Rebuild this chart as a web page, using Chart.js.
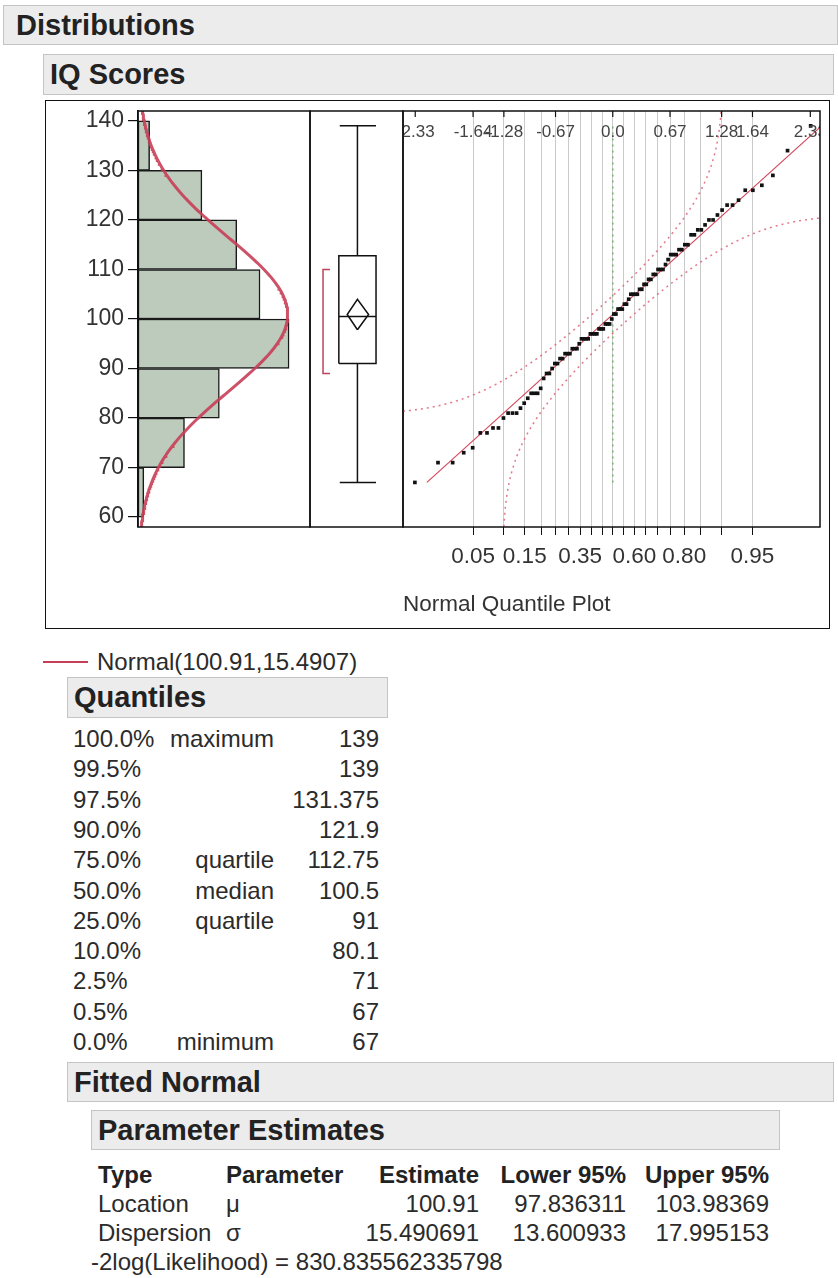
<!DOCTYPE html>
<html>
<head>
<meta charset="utf-8">
<script src="https://cdn.jsdelivr.net/npm/chart.js@4.4.1/dist/chart.umd.min.js"></script>
<style>
  html, body { margin: 0; padding: 0; background: #fff; }
  body { position: relative; width: 838px; height: 1278px; overflow: hidden;
         font-family: 'Liberation Sans', Arial, sans-serif; color: #2b2b2b; }
  .hdr { position: absolute; background: #ececec; border: 1px solid #c4c4c4; box-sizing: border-box;
         font-weight: bold; font-size: 29px; color: #222; line-height: 38px; white-space: nowrap; }
  .frame { position: absolute; border: 1.5px solid #111; box-sizing: border-box; }
  canvas { position: absolute; }
  .t { position: absolute; font-size: 24px; line-height: 30px; height: 30px; white-space: nowrap; }
  .r { text-align: right; }
  .b { font-weight: bold; color: #222; }
</style>
</head>
<body>
<div class="hdr" style="left:3px; top:5px; width:835px; height:40px; padding-left:12px;">Distributions</div>
<div class="hdr" style="left:43px; top:54px; width:791px; height:41px; padding-left:6px;">IQ Scores</div>
<div class="frame" style="left:45px; top:100px; width:785px; height:529px;"></div>

<canvas id="hist" width="271" height="432" style="left:45px; top:100px; width:271px; height:432px;"></canvas>
<canvas id="box" width="105" height="432" style="left:304px; top:100px; width:105px; height:432px;"></canvas>
<canvas id="qq" width="431" height="529" style="left:397px; top:100px; width:431px; height:529px;"></canvas>

<div id="legend"></div>
<div class="hdr" style="left:67px; top:677px; width:321px; height:41px; padding-left:6px;">Quantiles</div>
<div id="quantiles"></div>
<div class="hdr" style="left:67px; top:1062px; width:767px; height:40px; padding-left:6px;">Fitted Normal</div>
<div class="hdr" style="left:91px; top:1110px; width:689px; height:40px; padding-left:6px;">Parameter Estimates</div>
<div id="params"></div>

<script>
// ---- data ----
const binLower = [60, 70, 80, 90, 100, 110, 120, 130];
const binCounts = [1, 8, 14, 26, 21, 17, 11, 2];
const BIN_WIDTH = 10;

// sorted IQ scores (n = 100)
const iqScores = [
  67,
  71, 71, 73, 74, 77, 77, 78, 78,
  80, 81, 81, 81, 82, 83, 84, 85, 85, 85, 86, 88, 89, 89,
  90, 91, 91, 92, 92, 93, 93, 93, 94, 94, 94, 95, 96, 96, 96, 96, 97, 97, 97, 97, 98, 98, 98, 99, 99, 99,
  100, 101, 101, 102, 102, 102, 103, 103, 104, 105, 105, 105, 105, 106, 106, 107, 107, 108, 108, 109, 109,
  110, 110, 110, 111, 112, 113, 113, 113, 114, 114, 115, 115, 117, 117, 118, 118, 119,
  120, 120, 121, 122, 123, 123, 124, 126, 126, 127, 129, 134, 139
];

const quantileLevels = ['100.0%', '99.5%', '97.5%', '90.0%', '75.0%', '50.0%', '25.0%', '10.0%', '2.5%', '0.5%', '0.0%'];
const quantileNames  = ['maximum', '', '', '', 'quartile', 'median', 'quartile', '', '', '', 'minimum'];
const quantileValues = [139, 139, 131.375, 121.9, 112.75, 100.5, 91, 80.1, 71, 67, 67];

const paramTypes = ['Location', 'Dispersion'];
const paramSymbols = ['μ', 'σ'];
const paramEstimates = [100.91, 15.490691];
const paramLower = [97.836311, 13.600933];
const paramUpper = [103.98369, 17.995153];
const neg2LogLikelihood = '830.835562335798';
const legendLabel = 'Normal(100.91,15.4907)';

const shortestHalf = [89, 110];

const yTickValues = [60, 70, 80, 90, 100, 110, 120, 130, 140];
const probTicks = [0.05, 0.10, 0.15, 0.20, 0.25, 0.30, 0.35, 0.40, 0.45, 0.50,
                   0.55, 0.60, 0.65, 0.70, 0.75, 0.80, 0.85, 0.90, 0.95];
const probTickLabels = ['0.05', '', '0.15', '', '', '', '0.35', '', '', '',
                        '', '0.60', '', '', '', '0.80', '', '', '0.95'];
const topTickValues = [-2.326, -1.645, -1.282, -0.674, 0, 0.674, 1.282, 1.645, 2.326];
const topTickLabels = ['-2.33', '-1.64', '-1.28', '-0.67', '0.0', '0.67', '1.28', '1.64', '2.33'];

// ---- constants for scales & bands ----
const MU = paramEstimates[0];
const SIGMA = paramEstimates[1];
const N = iqScores.length;
const Y_MIN = 58, Y_MAX = 142;
const HIST_MAX = 29.6;
const Z_MIN = -2.47, Z_MAX = 2.44;
const BAND_D = 0.097;
const Q_MAX = quantileValues[0], Q3 = quantileValues[4], MEDIAN = quantileValues[5],
      Q1 = quantileValues[6], Q_MIN = quantileValues[10];

// ---- normal helpers ----
function erf(x) {
  const s = Math.sign(x); x = Math.abs(x);
  const t = 1 / (1 + 0.3275911 * x);
  const y = 1 - (((((1.061405429 * t - 1.453152027) * t) + 1.421413741) * t - 0.284496736) * t + 0.254829592) * t * Math.exp(-x * x);
  return s * y;
}
function normCdf(z) { return 0.5 * (1 + erf(z / Math.SQRT2)); }
function normPdf(v) { const u = (v - MU) / SIGMA; return Math.exp(-0.5 * u * u) / (SIGMA * Math.sqrt(2 * Math.PI)); }
function invNorm(p) {
  const a = [-3.969683028665376e+01, 2.209460984245205e+02, -2.759285104469687e+02, 1.383577518672690e+02, -3.066479806614716e+01, 2.506628277459239e+00];
  const b = [-5.447609879822406e+01, 1.615858368580409e+02, -1.556989798598866e+02, 6.680131188771972e+01, -1.328068155288572e+01];
  const c = [-7.784894002430293e-03, -3.223964580411365e-01, -2.400758277161838e+00, -2.549732539343734e+00, 4.374664141464968e+00, 2.938163982698783e+00];
  const d = [7.784695709041462e-03, 3.224671290700398e-01, 2.445134137142996e+00, 3.754408661907416e+00];
  const pl = 0.02425, ph = 1 - pl;
  if (p < pl) {
    const q = Math.sqrt(-2 * Math.log(p));
    return (((((c[0]*q+c[1])*q+c[2])*q+c[3])*q+c[4])*q+c[5]) / ((((d[0]*q+d[1])*q+d[2])*q+d[3])*q+1);
  }
  if (p <= ph) {
    const q = p - 0.5, r = q * q;
    return (((((a[0]*r+a[1])*r+a[2])*r+a[3])*r+a[4])*r+a[5])*q / (((((b[0]*r+b[1])*r+b[2])*r+b[3])*r+b[4])*r+1);
  }
  const q = Math.sqrt(-2 * Math.log(1 - p));
  return -(((((c[0]*q+c[1])*q+c[2])*q+c[3])*q+c[4])*q+c[5]) / ((((d[0]*q+d[1])*q+d[2])*q+d[3])*q+1);
}

// ---- shared chart settings ----
Chart.defaults.font.family = "'Liberation Sans', Arial, sans-serif";
Chart.defaults.color = '#333';

const panelFrame = {
  id: 'panelFrame',
  afterDraw(chart) {
    const { ctx, chartArea: a } = chart;
    ctx.save();
    ctx.strokeStyle = '#111';
    ctx.lineWidth = 1.5;
    ctx.strokeRect(a.left, a.top, a.right - a.left, a.bottom - a.top);
    ctx.restore();
  }
};

const baseOptions = {
  responsive: false,
  animation: false,
  events: [],
  plugins: { legend: { display: false }, tooltip: { enabled: false } }
};

// ---- histogram with fitted normal density ----
const densityCurve = [];
for (let v = Y_MIN; v <= Y_MAX + 1e-9; v += 0.25) {
  densityCurve.push({ x: N * BIN_WIDTH * normPdf(v), y: v });
}

new Chart(document.getElementById('hist'), {
  type: 'bar',
  data: {
    datasets: [
      {
        type: 'line', order: 0, data: densityCurve,
        borderColor: 'rgba(200,62,86,0.9)', borderWidth: 3, pointRadius: 0, fill: false, tension: 0
      },
      {
        type: 'bar', order: 1,
        data: binLower.map((lo, i) => ({ x: binCounts[i], y: lo + BIN_WIDTH / 2 })),
        backgroundColor: '#bdcbbd', borderColor: '#1a1a1a', borderWidth: 1.5, borderSkipped: false,
        barPercentage: 1, categoryPercentage: 1
      }
    ]
  },
  options: {
    ...baseOptions,
    indexAxis: 'y',
    layout: { padding: { top: 11, bottom: 5, left: 0, right: 6 } },
    scales: {
      x: { type: 'linear', min: 0, max: HIST_MAX, display: false },
      y: {
        type: 'linear', min: Y_MIN, max: Y_MAX, offset: false,
        afterBuildTicks: s => { s.ticks = yTickValues.map(v => ({ value: v })); },
        afterFit: s => { s.width = 93; s.paddingTop = 0; s.paddingBottom = 0; },
        grid: { drawOnChartArea: false, offset: false, color: '#111', tickLength: 10, lineWidth: 1.2 },
        border: { display: true, color: '#111', width: 1.5 },
        ticks: { color: '#333', font: { size: 23 }, padding: 4 }
      }
    }
  },
  plugins: [panelFrame]
});

// ---- outlier box plot ----
const BOX = { c: 0.51, boxL: 0.31, boxR: 0.71, capL: 0.32, capR: 0.71, diaL: 0.40, diaR: 0.63, brL: 0.14, brR: 0.215 };
const seg = (pts, color = '#111') => ({
  data: pts, showLine: true, borderColor: color, borderWidth: 1.5, pointRadius: 0, fill: false, borderJoinStyle: 'miter'
});

new Chart(document.getElementById('box'), {
  type: 'scatter',
  data: {
    datasets: [
      seg([{ x: BOX.c, y: Q3 }, { x: BOX.c, y: Q_MAX }]),
      seg([{ x: BOX.capL, y: Q_MAX }, { x: BOX.capR, y: Q_MAX }]),
      seg([{ x: BOX.c, y: Q_MIN }, { x: BOX.c, y: Q1 }]),
      seg([{ x: BOX.capL, y: Q_MIN }, { x: BOX.capR, y: Q_MIN }]),
      seg([{ x: BOX.boxL, y: Q1 }, { x: BOX.boxR, y: Q1 }, { x: BOX.boxR, y: Q3 }, { x: BOX.boxL, y: Q3 }, { x: BOX.boxL, y: Q1 }]),
      seg([{ x: BOX.boxL, y: MEDIAN }, { x: BOX.boxR, y: MEDIAN }]),
      seg([{ x: BOX.c, y: paramLower[0] }, { x: BOX.diaR, y: MU }, { x: BOX.c, y: paramUpper[0] },
           { x: BOX.diaL, y: MU }, { x: BOX.c, y: paramLower[0] }]),
      seg([{ x: BOX.brR, y: shortestHalf[1] }, { x: BOX.brL, y: shortestHalf[1] },
           { x: BOX.brL, y: shortestHalf[0] }, { x: BOX.brR, y: shortestHalf[0] }], '#b8465a')
    ]
  },
  options: {
    ...baseOptions,
    layout: { padding: { top: 11, bottom: 5, left: 6, right: 6 } },
    scales: {
      x: { type: 'linear', min: 0, max: 1, display: false },
      y: { type: 'linear', min: Y_MIN, max: Y_MAX, display: false }
    }
  },
  plugins: [panelFrame]
});

// ---- normal quantile plot ----
const qqPoints = iqScores.map((v, i) => ({ x: invNorm((i + 1) / (N + 1)), y: v }));
function bandPoints(sign) {
  const pts = [];
  for (let z = Z_MIN; z <= Z_MAX + 1e-9; z += 0.004) {
    const p = normCdf(z) + sign * BAND_D;
    if (p <= 1e-6 || p >= 1 - 1e-6) continue;
    pts.push({ x: z, y: MU + SIGMA * invNorm(p) });
  }
  return pts;
}
const fitLine = [{ x: (Q_MIN - MU) / SIGMA, y: Q_MIN }, { x: (Q_MAX - MU) / SIGMA, y: Q_MAX }];

const topQuantileAxis = {
  id: 'topQuantileAxis',
  afterDatasetsDraw(chart) {
    const { ctx, chartArea: a, scales: { x } } = chart;
    ctx.save();
    ctx.beginPath();
    ctx.rect(a.left, a.top, a.right - a.left, a.bottom - a.top);
    ctx.clip();
    ctx.strokeStyle = '#111';
    ctx.lineWidth = 1.2;
    ctx.fillStyle = '#444';
    ctx.font = "17px 'Liberation Sans', Arial, sans-serif";
    ctx.textAlign = 'center';
    ctx.textBaseline = 'middle';
    topTickValues.forEach((v, i) => {
      const px = x.getPixelForValue(v);
      ctx.beginPath();
      ctx.moveTo(px, a.top);
      ctx.lineTo(px, a.top + 6);
      ctx.stroke();
      ctx.fillText(topTickLabels[i], px, a.top + 21);
    });
    ctx.restore();
  }
};

new Chart(document.getElementById('qq'), {
  type: 'scatter',
  data: {
    datasets: [
      { order: 0, data: qqPoints, pointStyle: 'rect', pointRadius: 2.6, backgroundColor: '#111', borderColor: '#111', borderWidth: 0 },
      { order: 1, data: fitLine, showLine: true, borderColor: '#d4485c', borderWidth: 1.2, pointRadius: 0 },
      { order: 2, data: bandPoints(1), showLine: true, borderColor: 'rgba(222,96,116,0.85)', borderWidth: 1.5, borderDash: [2, 4], pointRadius: 0 },
      { order: 2, data: bandPoints(-1), showLine: true, borderColor: 'rgba(222,96,116,0.85)', borderWidth: 1.5, borderDash: [2, 4], pointRadius: 0 },
      { order: 3, data: [{ x: 0, y: Q_MIN }, { x: 0, y: Q_MAX }], showLine: true, borderColor: 'rgba(110,170,110,0.9)', borderWidth: 1.5, borderDash: [2, 4], pointRadius: 0 }
    ]
  },
  options: {
    ...baseOptions,
    layout: { padding: { top: 11, bottom: 0, left: 6, right: 8 } },
    scales: {
      x: {
        type: 'linear', min: Z_MIN, max: Z_MAX, position: 'bottom',
        afterBuildTicks: s => { s.ticks = probTicks.map(p => ({ value: invNorm(p) })); },
        afterFit: s => { s.height = 102; s.paddingLeft = 0; s.paddingRight = 0; },
        grid: { color: '#cacaca', lineWidth: 1, tickColor: '#111', tickLength: 8, drawOnChartArea: true },
        border: { display: false },
        ticks: { autoSkip: false, maxRotation: 0, minRotation: 0, padding: 8.5, color: '#333',
                 font: { size: 22.5 }, callback: (v, i) => probTickLabels[i] },
        title: { display: true, text: 'Normal Quantile Plot', align: 'start', color: '#333',
                 font: { size: 22.5 }, padding: { top: 0, bottom: 10.5 } }
      },
      y: { type: 'linear', min: Y_MIN, max: Y_MAX, display: false }
    }
  },
  plugins: [panelFrame, topQuantileAxis]
});

// ---- legend & tables ----
function el(cls, style, text) {
  const d = document.createElement('div');
  d.className = cls;
  d.style.cssText = style;
  d.textContent = text;
  return d;
}
const legend = document.getElementById('legend');
legend.appendChild(el('', 'position:absolute; left:43px; top:661px; width:45px; height:2px; background:#c63f56;', ''));
legend.appendChild(el('t', 'left:97px; top:647px;', legendLabel));

const qBox = document.getElementById('quantiles');
quantileLevels.forEach((lvl, k) => {
  const top = 724 + 30.3 * k;
  qBox.appendChild(el('t', `left:73px; top:${top}px;`, lvl));
  qBox.appendChild(el('t r', `left:150px; width:124px; top:${top}px;`, quantileNames[k]));
  qBox.appendChild(el('t r', `left:280px; width:99px; top:${top}px;`, String(quantileValues[k])));
});

const pBox = document.getElementById('params');
const cols = [
  { left: 98, width: 0, right: false },
  { left: 226, width: 0, right: false },
  { left: 340, width: 139, right: true },
  { left: 490, width: 136, right: true },
  { left: 636, width: 133, right: true }
];
function paramRow(cells, top, bold) {
  cells.forEach((txt, j) => {
    const c = cols[j];
    const cls = 't' + (c.right ? ' r' : '') + (bold ? ' b' : '');
    const w = c.right ? `width:${c.width}px;` : '';
    pBox.appendChild(el(cls, `left:${c.left}px; ${w} top:${top}px;`, txt));
  });
}
paramRow(['Type', 'Parameter', 'Estimate', 'Lower 95%', 'Upper 95%'], 1160, true);
paramTypes.forEach((t, i) => {
  paramRow([t, paramSymbols[i], String(paramEstimates[i]), String(paramLower[i]), String(paramUpper[i])], 1189 + 29 * i, false);
});
pBox.appendChild(el('t', 'left:91px; top:1247px;', '-2log(Likelihood) = ' + neg2LogLikelihood));
</script>
</body>
</html>
